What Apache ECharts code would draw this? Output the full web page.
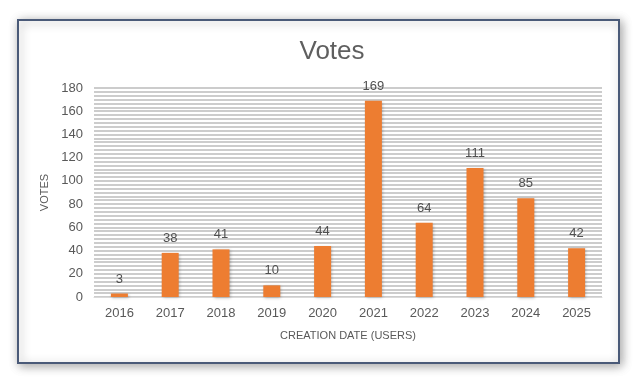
<!DOCTYPE html>
<html><head><meta charset="utf-8">
<script src="https://cdn.jsdelivr.net/npm/echarts@6/dist/echarts.min.js"></script>
<style>html,body{margin:0;padding:0;background:#fff}#c{width:640px;height:384px}</style>
</head><body><div id="c"></div>
<script>
const categories = ['2016','2017','2018','2019','2020','2021','2022','2023','2024','2025'];
const votes = [3, 38, 41, 10, 44, 169, 64, 111, 85, 42];
const yTicks = [0, 20, 40, 60, 80, 100, 120, 140, 160, 180];

const chart = echarts.init(document.getElementById('c'), null, {renderer: 'canvas'});
const font = '"Liberation Sans", Arial, sans-serif';
chart.setOption({
  animation: false,
  backgroundColor: '#ffffff',
  graphic: [{
    type: 'rect', z: -10, silent: true,
    shape: {x: 18, y: 20, width: 601, height: 343},
    style: {fill: '#ffffff', stroke: '#4a5a78', lineWidth: 2,
      shadowBlur: 10, shadowColor: 'rgba(0,0,0,0.35)', shadowOffsetX: 2, shadowOffsetY: 2}
  }],
  title: {
    text: 'Votes', left: 327, top: 34, textAlign: 'center',
    textStyle: {fontFamily: font, fontSize: 26, fontWeight: 'normal', color: '#5f5f5f'}
  },
  grid: {left: 94, right: 38, top: 88, bottom: 87},
  xAxis: {
    type: 'category', data: categories,
    name: 'CREATION DATE (USERS)', nameLocation: 'middle', nameGap: 33,
    nameTextStyle: {fontFamily: font, fontSize: 11, color: '#595959'},
    axisLine: {show: true, lineStyle: {color: '#d9d9d9'}},
    axisTick: {show: false},
    axisLabel: {fontFamily: font, fontSize: 13, color: '#595959', margin: 10}
  },
  yAxis: {
    type: 'value', min: yTicks[0], max: yTicks[yTicks.length-1], interval: 20,
    name: 'VOTES', nameLocation: 'middle', nameGap: 35, nameRotate: 90,
    nameTextStyle: {fontFamily: font, fontSize: 11, color: '#595959'},
    axisLine: {show: false}, axisTick: {show: false},
    axisLabel: {fontFamily: font, fontSize: 13, color: '#595959', margin: 11},
    splitLine: {show: true, lineStyle: {color: '#cccccc', width: 2}},
    minorTick: {show: false, splitNumber: 6},
    minorSplitLine: {show: true, lineStyle: {color: '#cccccc', width: 2}}
  },
  series: [{
    type: 'bar', data: votes, barWidth: 17,
    itemStyle: {color: '#ed7d31', shadowBlur: 3, shadowColor: 'rgba(0,0,0,0.25)', shadowOffsetX: 1, shadowOffsetY: 1},
    label: {show: true, position: 'top', distance: 8, fontFamily: font, fontSize: 13, color: '#505050'}
  }]
});
</script></body></html>
